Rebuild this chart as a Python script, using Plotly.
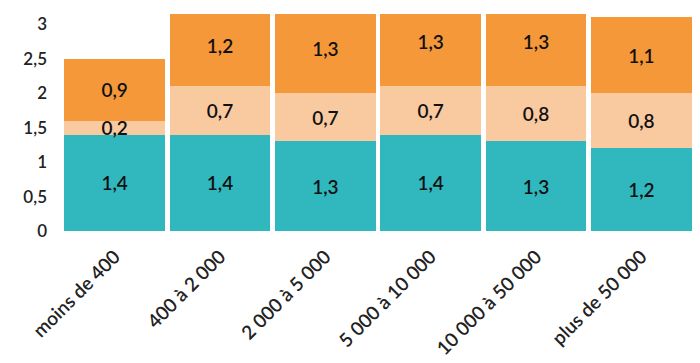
import plotly.graph_objects as go

categories = ["moins de 400", "400 à 2 000", "2 000 à 5 000", "5 000 à 10 000", "10 000 à 50 000", "plus de 50 000"]
serie_bas = [1.4, 1.4, 1.3, 1.4, 1.3, 1.2]
serie_milieu = [0.2, 0.7, 0.7, 0.7, 0.8, 0.8]
serie_haut = [0.9, 1.2, 1.3, 1.3, 1.3, 1.1]
y_ticks = [0, 0.5, 1, 1.5, 2, 2.5, 3]
y_tick_labels = ["0", "0,5", "1", "1,5", "2", "2,5", "3"]

def fmt(vals):
    return [f"{v:.1f}".replace(".", ",") for v in vals]

colors = ["#31B8BF", "#F9C9A0", "#F5983A"]
fig = go.Figure()
for vals, col in zip([serie_bas, serie_milieu, serie_haut], colors):
    fig.add_trace(go.Bar(
        x=categories, y=vals, marker=dict(color=col, line=dict(width=0)),
        text=fmt(vals), textposition="inside", insidetextanchor="middle",
        constraintext="none", cliponaxis=True,
        textfont=dict(color="#111111", size=19, family="Lato", weight=600),
        hoverinfo="skip",
    ))

fig.update_layout(
    barmode="stack", bargap=0.045,
    width=700, height=363,
    margin=dict(l=62, r=6, t=14, b=132),
    paper_bgcolor="white", plot_bgcolor="white",
    showlegend=False,
    font=dict(family="Lato", color="#222222"),
)
fig.update_yaxes(range=[0, 3.15], tickvals=y_ticks, ticktext=y_tick_labels,
                 showgrid=False, zeroline=False, showline=False, automargin=False,
                 tickfont=dict(size=17, color="#222222", weight=600), ticks="", ticklabelstandoff=14)
fig.update_xaxes(tickangle=-45, showgrid=False, showline=False, ticks="",
                 ticklabelstandoff=10, automargin=False,
                 tickfont=dict(size=19, color="#222222", weight=600))
fig.write_html("out.html")
